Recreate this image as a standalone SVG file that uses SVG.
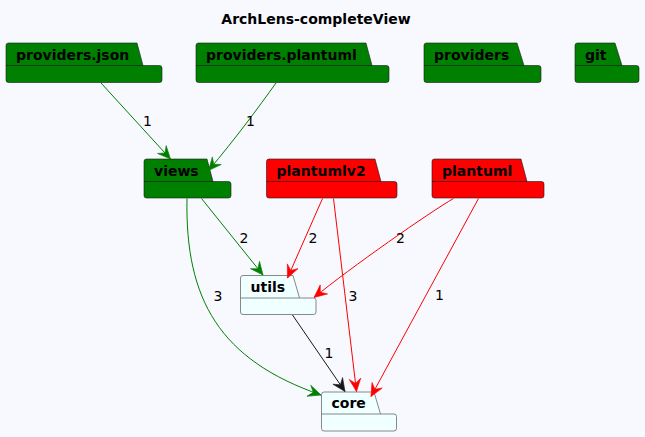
<svg xmlns="http://www.w3.org/2000/svg" width="645" height="437" viewBox="0 0 645 437">
<style>
.pkg path{stroke:#181818;stroke-width:0.6}
.g path{fill:#008000}
.r path{fill:#FF0000}
.w path{fill:#F0FFFF;stroke:#6b6b6b;stroke-width:0.8}
.name{font-family:"DejaVu Sans",sans-serif;font-weight:bold;font-size:14px;fill:#000}
.lbl{font-family:"DejaVu Sans",sans-serif;font-size:14px;fill:#000}
.e{fill:none;stroke-width:1}
.eg{stroke:#008000}.er{stroke:#FF0000}.ek{stroke:#181818}
</style>
<defs>
<marker id="ag" markerUnits="userSpaceOnUse" orient="auto" markerWidth="14" markerHeight="12" refX="11" refY="5" viewBox="0 0 12 10" overflow="visible"><path d="M11,5 L0,0 L4,5 L0,10 Z" fill="#008000" stroke="#008000" stroke-width="0.5"/></marker>
<marker id="ar" markerUnits="userSpaceOnUse" orient="auto" markerWidth="14" markerHeight="12" refX="11" refY="5" viewBox="0 0 12 10" overflow="visible"><path d="M11,5 L0,0 L4,5 L0,10 Z" fill="#FF0000" stroke="#FF0000" stroke-width="0.5"/></marker>
<marker id="ak" markerUnits="userSpaceOnUse" orient="auto" markerWidth="14" markerHeight="12" refX="11" refY="5" viewBox="0 0 12 10" overflow="visible"><path d="M11,5 L0,0 L4,5 L0,10 Z" fill="#181818" stroke="#181818" stroke-width="0.5"/></marker>
</defs>
<rect width="645" height="437" fill="#F8F8FF"/>
<text x="316" y="24" text-anchor="middle" class="name">ArchLens-completeView</text>

<g id="providers.json" class="pkg g">
<path d="M8.5,43 L137,43 L143,65.5 L159.5,65.5 Q162,65.5 162,68 L162,80 Q162,82.5 159.5,82.5 L8.5,82.5 Q6,82.5 6,80 L6,45.5 Q6,43 8.5,43 Z"/>
<path d="M6,65.5 L143,65.5" fill="none"/>
<text x="16" y="59.5" class="name">providers.json</text>
</g>
<g id="providers.plantuml" class="pkg g">
<path d="M198.5,43 L366,43 L372,65.5 L386.5,65.5 Q389,65.5 389,68 L389,80 Q389,82.5 386.5,82.5 L198.5,82.5 Q196,82.5 196,80 L196,45.5 Q196,43 198.5,43 Z"/>
<path d="M196,65.5 L372,65.5" fill="none"/>
<text x="206" y="59.5" class="name">providers.plantuml</text>
</g>
<g id="providers" class="pkg g">
<path d="M426.5,43 L517,43 L524,65.5 L538.5,65.5 Q541,65.5 541,68 L541,80 Q541,82.5 538.5,82.5 L426.5,82.5 Q424,82.5 424,80 L424,45.5 Q424,43 426.5,43 Z"/>
<path d="M424,65.5 L524,65.5" fill="none"/>
<text x="434" y="59.5" class="name">providers</text>
</g>
<g id="git" class="pkg g">
<path d="M577.5,43 L615,43 L622,65.5 L636.5,65.5 Q639,65.5 639,68 L639,80 Q639,82.5 636.5,82.5 L577.5,82.5 Q575,82.5 575,80 L575,45.5 Q575,43 577.5,43 Z"/>
<path d="M575,65.5 L622,65.5" fill="none"/>
<text x="585" y="59.5" class="name">git</text>
</g>
<g id="views" class="pkg g">
<path d="M146.5,159 L207,159 L213,181.5 L228.5,181.5 Q231,181.5 231,184 L231,195.5 Q231,198 228.5,198 L146.5,198 Q144,198 144,195.5 L144,161.5 Q144,159 146.5,159 Z"/>
<path d="M144,181.5 L213,181.5" fill="none"/>
<text x="154" y="176" class="name">views</text>
</g>
<g id="plantumlv2" class="pkg r">
<path d="M269,159 L375,159 L381,181.5 L394.5,181.5 Q397,181.5 397,184 L397,195.5 Q397,198 394.5,198 L269,198 Q266.5,198 266.5,195.5 L266.5,161.5 Q266.5,159 269,159 Z"/>
<path d="M266.5,181.5 L381,181.5" fill="none"/>
<text x="276.5" y="176" class="name">plantumlv2</text>
</g>
<g id="plantuml" class="pkg r">
<path d="M434.5,159 L521,159 L527,181.5 L541.5,181.5 Q544,181.5 544,184 L544,195.5 Q544,198 541.5,198 L434.5,198 Q432,198 432,195.5 L432,161.5 Q432,159 434.5,159 Z"/>
<path d="M432,181.5 L527,181.5" fill="none"/>
<text x="442" y="176" class="name">plantuml</text>
</g>
<g id="utils" class="pkg w">
<path d="M243,275.5 L293,275.5 L299.5,298 L313.5,298 Q316,298 316,300.5 L316,312 Q316,314.5 313.5,314.5 L243,314.5 Q240.5,314.5 240.5,312 L240.5,278 Q240.5,275.5 243,275.5 Z"/>
<path d="M240.5,298 L299.5,298" fill="none"/>
<text x="250.5" y="292" class="name">utils</text>
</g>
<g id="core" class="pkg w">
<path d="M324,392 L374,392 L380.5,414 L394,414 Q396.5,414 396.5,416.5 L396.5,428.5 Q396.5,431 394,431 L324,431 Q321.5,431 321.5,428.5 L321.5,394.5 Q321.5,392 324,392 Z"/>
<path d="M321.5,414 L380.5,414" fill="none"/>
<text x="331.5" y="408" class="name">core</text>
</g>

<g id="connectors">
<path class="e eg" d="M101,83 L170.5,159" marker-end="url(#ag)"/>
<path class="e eg" d="M276,83 C258,108 236,138 208.5,170.5" marker-end="url(#ag)"/>
<path class="e eg" d="M201.5,198.5 L263,275" marker-end="url(#ag)"/>
<path class="e eg" d="M187,198.5 C185,300 220,360 321,395" marker-end="url(#ag)"/>
<path class="e er" d="M322.5,198.5 L287.5,278" marker-end="url(#ar)"/>
<path class="e er" d="M333.5,198.5 L356.5,391.5" marker-end="url(#ar)"/>
<path class="e er" d="M453.5,198.5 C430,212 350,268 314,297.5" marker-end="url(#ar)"/>
<path class="e er" d="M478.5,198.5 L371,396.5" marker-end="url(#ar)"/>
<path class="e ek" d="M292.5,315 L345,391.5" marker-end="url(#ak)"/>
<text x="147.5" y="126" text-anchor="middle" class="lbl">1</text>
<text x="250.5" y="126" text-anchor="middle" class="lbl">1</text>
<text x="244" y="243" text-anchor="middle" class="lbl">2</text>
<text x="313" y="243" text-anchor="middle" class="lbl">2</text>
<text x="400.5" y="243" text-anchor="middle" class="lbl">2</text>
<text x="218" y="301" text-anchor="middle" class="lbl">3</text>
<text x="353" y="301" text-anchor="middle" class="lbl">3</text>
<text x="439.5" y="300" text-anchor="middle" class="lbl">1</text>
<text x="329" y="358" text-anchor="middle" class="lbl">1</text>
</g>
</svg>
